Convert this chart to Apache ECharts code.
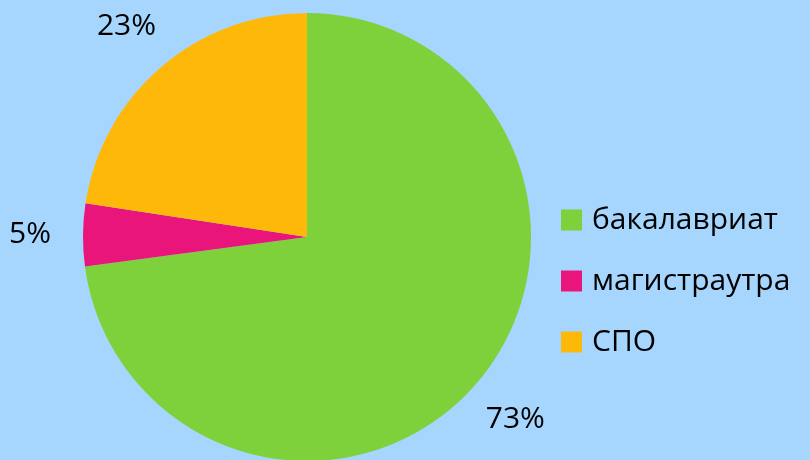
<!DOCTYPE html>
<html>
<head>
<meta charset="utf-8">
<script src="https://cdn.jsdelivr.net/npm/echarts@6/dist/echarts.min.js"></script>
<style>
  html, body { margin: 0; padding: 0; background: #a6d6fe; }
  #pie { width: 810px; height: 460px; }
</style>
</head>
<body>
<div id="pie"></div>
<script>
// категории и доли
var names = ["бакалавриат", "магистраутра", "СПО"];
var values = [72.9, 4.5, 22.6];
var colors = ["#7fd13b", "#ea157a", "#feb80a"];

var chart = echarts.init(document.getElementById("pie"));

var pieData = names.map(function (n, i) {
  return { name: n, value: values[i], itemStyle: { color: colors[i] } };
});

chart.setOption({
  backgroundColor: "#a6d6fe",
  animation: false,
  legend: {
    orient: "vertical",
    left: 561,
    top: 205,
    padding: 0,
    itemWidth: 21,
    itemHeight: 21,
    itemGap: 31,
    icon: "rect",
    data: names,
    textStyle: { fontFamily: "Open Sans", fontSize: 30, color: "#000", padding: [0, 0, 0, 5] }
  },
  series: [
    {
      // сам пирог
      type: "pie",
      center: [307, 237],
      radius: [0, 224],
      startAngle: 90,
      clockwise: true,
      label: { show: false },
      labelLine: { show: false },
      data: pieData
    },
    {
      // прозрачное кольцо только для подписей
      type: "pie",
      center: [307, 237],
      radius: [252, 296],
      startAngle: 90,
      clockwise: true,
      silent: true,
      legendHoverLink: false,
      itemStyle: { color: "rgba(0,0,0,0)" },
      label: {
        show: true,
        position: "inside",
        fontFamily: "Open Sans",
        fontSize: 30,
        color: "#000",
        formatter: function (p) { return Math.round(p.percent) + "%"; }
      },
      labelLine: { show: false },
      data: names.map(function (n, i) { return { name: n, value: values[i] }; })
    }
  ]
});
</script>
</body>
</html>
